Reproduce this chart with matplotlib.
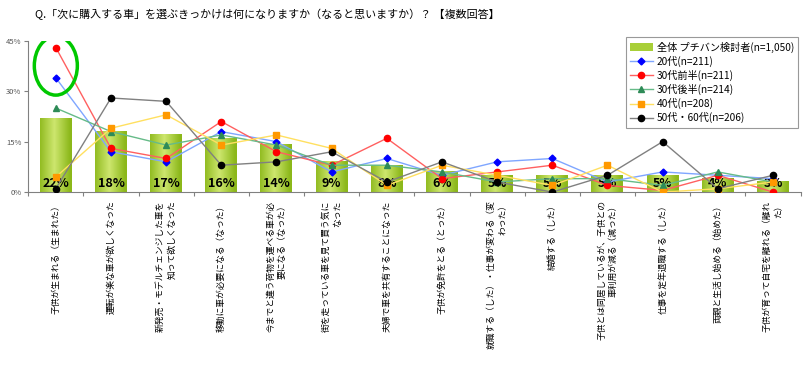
import numpy as np
import matplotlib
matplotlib.use("Agg")
import matplotlib.pyplot as plt
from matplotlib.patches import Ellipse, Patch
from matplotlib.lines import Line2D
from matplotlib.colors import LinearSegmentedColormap

plt.rcParams['font.family'] = ['Noto Sans CJK JP', 'DejaVu Sans']

# データ（%）
categories = [
	"子供が生まれる（生まれた）",
	"運転が楽な車が欲しくなった",
	"新発売・モデルチェンジした車を\n知って欲しくなった",
	"移動に車が必要になる（なった）",
	"今までと違う荷物を運べる車が必\n要になる（なった）",
	"街を走っている車を見て買う気に\nなった",
	"夫婦で車を共有することになった",
	"子供が免許をとる（とった）",
	"就職する（した）・仕事が変わる（変\nわった）",
	"結婚する（した）",
	"子供とは同居しているが、子供との\n車利用が減る（減った）",
	"仕事を定年退職する（した）",
	"両親と生活し始める（始めた）",
	"子供が育って自宅を離れる（離れ\nた）",
]
total = [22, 18, 17, 16, 14, 9, 8, 6, 5, 5, 5, 5, 4, 3]
age20 = [34, 12, 9, 18, 15, 6, 10, 5, 9, 10, 3, 6, 5, 4]
age30_early = [43, 13, 10, 21, 12, 8, 16, 4, 6, 8, 2, 0.5, 5, 0]
age30_late = [25, 18, 14, 17, 14, 8, 8, 6, 3, 4, 4, 2, 6, 3]
age40 = [4.5, 19, 23, 14, 17, 13, 2, 8, 5, 2, 8, 0, 1, 3]
age50_60 = [1, 28, 27, 8, 9, 12, 3, 9, 3, 0, 5, 15, 1, 5]

series = [
	("20代(n=211)", age20, "#7FA6FF", "#0000FF", "D", 3.5),
	("30代前半(n=211)", age30_early, "#FF6060", "#FF0000", "o", 4.5),
	("30代後半(n=214)", age30_late, "#66BB88", "#2E8B57", "^", 4.5),
	("40代(n=208)", age40, "#FFE060", "#FF9900", "s", 4),
	("50代・60代(n=206)", age50_60, "#808080", "#000000", "o", 4.5),
]

fig = plt.figure(figsize=(8.07, 3.68), dpi=100)
ax = fig.add_axes([0.035, 0.478, 0.957, 0.411])

x = np.arange(len(categories))
w = 0.58
grad = np.linspace(0, 1, 50)
grad = 1 - np.abs(grad - 0.45) * 2
cmap = LinearSegmentedColormap.from_list("g", ["#8CB81A", "#CDE66E"])
for xi, v in zip(x, total):
	ax.imshow(grad[np.newaxis, :], extent=[xi - w / 2, xi + w / 2, 0, v],
			aspect='auto', cmap=cmap, zorder=1, vmin=0, vmax=1)
	ax.text(xi, 2.7, f"{v}%", ha='center', va='center', fontsize=9,
			fontweight='bold', zorder=2)

for name, vals, lc, mc, mk, ms in series:
	ax.plot(x, vals, color=lc, lw=1, marker=mk, markersize=ms,
			markerfacecolor=mc, markeredgecolor=mc, zorder=3)

ax.add_patch(Ellipse((0, 37.6), 0.78, 17.5, fill=False, ec='#00C800', lw=2.5, zorder=4))

ax.set_xlim(-0.5, len(categories) - 0.5)
ax.set_ylim(0, 45)
ax.set_yticks([0, 15, 30, 45])
ax.set_yticklabels(["0%", "15%", "30%", "45%"], fontsize=5.5, color='#555555')
ax.set_xticks(np.arange(-0.5, len(categories), 1))
ax.set_xticklabels([])
ax.tick_params(axis='x', length=3, color='#808080', direction='out')
ax.tick_params(axis='y', length=3, color='#808080', direction='out', pad=2)
for s in ['top', 'right']:
	ax.spines[s].set_visible(False)
for s in ['left', 'bottom']:
	ax.spines[s].set_color('#808080')
	ax.spines[s].set_linewidth(0.8)

for xi, lab in zip(x, categories):
	ax.text(xi, -2.5, lab, rotation=90, ha='center', va='top', fontsize=6.3,
			multialignment='right', linespacing=1.3)

fig.text(0.043, 0.962, "Q.「次に購入する車」を選ぶきっかけは何になりますか（なると思いますか）？ 【複数回答】",
		fontsize=7.9, va='center', ha='left')

handles = [Patch(facecolor='#A8CF38', edgecolor='none')]
labels = ["全体 プチバン検討者(n=1,050)"]
for name, vals, lc, mc, mk, ms in series:
	handles.append(Line2D([], [], color=lc, lw=1, marker=mk, markersize=ms,
						markerfacecolor=mc, markeredgecolor=mc))
	labels.append(name)
leg = fig.legend(handles, labels, loc='upper right', bbox_to_anchor=(0.995, 0.912),
				fontsize=7.3, frameon=True, fancybox=False, edgecolor='#808080',
				borderpad=0.4, labelspacing=0.3, handlelength=2.2, handletextpad=0.4)
leg.get_frame().set_linewidth(0.8)

fig.savefig("out.png", dpi=100)
